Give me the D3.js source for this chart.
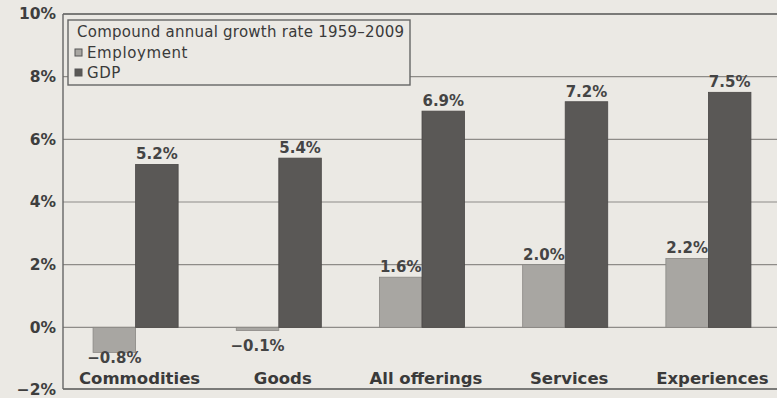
<!DOCTYPE html>
<html><head><meta charset="utf-8">
<script src="https://cdn.jsdelivr.net/npm/d3@7/dist/d3.min.js"></script>
<style>
html,body{margin:0;padding:0;background:#ebe9e4;}
svg{display:block;}
</style></head>
<body>
<svg id="chart" width="777" height="398"></svg>
<script>
const categories = ["Commodities", "Goods", "All offerings", "Services", "Experiences"];
const seriesNames = ["Employment", "GDP"];
const employment = [-0.8, -0.1, 1.6, 2.0, 2.2];
const gdp = [5.2, 5.4, 6.9, 7.2, 7.5];
const yTicks = [-2, 0, 2, 4, 6, 8, 10];
const legendTitle = "Compound annual growth rate 1959\u20132009";

const colors = {Employment: "#a8a6a2", GDP: "#5a5856"};
const W = 777, H = 398;
const svg = d3.select("#chart");
svg.append("rect").attr("width", W).attr("height", H).attr("fill", "#ebe9e4");

const left = 63, right = 780;
const y = d3.scaleLinear().domain([-2, 10]).range([390, 14]);
const x0 = d3.scaleBand().domain(categories).range([left + 1, right]).paddingInner(0.406).paddingOuter(0.203);
const x1 = d3.scaleBand().domain(seriesNames).range([0, x0.bandwidth()]);

const data = categories.map((c, i) => ({cat: c, values: [
  {key: "Employment", v: employment[i]}, {key: "GDP", v: gdp[i]}]}));

// gridlines
const grid = svg.append("g");
grid.selectAll("line").data(yTicks.filter(t => t > -2 && t < 10)).join("line")
  .attr("x1", left).attr("x2", W).attr("y1", d => y(d)).attr("y2", d => y(d))
  .attr("stroke", "#8e8c88").attr("stroke-width", 1.2);

// frame lines
svg.append("line").attr("x1", left).attr("x2", W).attr("y1", y(10)).attr("y2", y(10))
  .attr("stroke", "#555").attr("stroke-width", 1.6);
svg.append("line").attr("x1", left).attr("x2", W).attr("y1", y(-2) - 1).attr("y2", y(-2) - 1)
  .attr("stroke", "#555").attr("stroke-width", 1.6);
svg.append("line").attr("x1", left).attr("x2", left).attr("y1", y(10)).attr("y2", y(-2) - 1)
  .attr("stroke", "#666").attr("stroke-width", 1.4);

// y axis
const yAxis = d3.axisLeft(y).tickValues(yTicks).tickSize(0).tickPadding(7)
  .tickFormat(d => (d < 0 ? "\u2212" + Math.abs(d) : d) + "%");
const ya = svg.append("g").attr("transform", `translate(${left},0)`).call(yAxis);
ya.select(".domain").remove();
ya.selectAll("text").attr("font-family", "DejaVu Sans").attr("font-weight", "bold")
  .attr("font-size", 15.5).attr("fill", "#3e3e3e");

// bars
const groups = svg.append("g").selectAll("g").data(data).join("g")
  .attr("transform", d => `translate(${x0(d.cat)},0)`);
groups.selectAll("rect").data(d => d.values).join("rect")
  .attr("x", d => x1(d.key)).attr("width", x1.bandwidth())
  .attr("y", d => y(Math.max(0, d.v))).attr("height", d => Math.abs(y(d.v) - y(0)))
  .attr("fill", d => colors[d.key]).attr("stroke", d => d.key === "GDP" ? "#4a4846" : "#8a8884")
  .attr("stroke-width", 0.8);

// value labels
groups.selectAll("text").data(d => d.values).join("text")
  .attr("x", d => x1(d.key) + x1.bandwidth() / 2)
  .attr("y", d => d.v >= 0 ? y(d.v) - 5 : Math.max(y(d.v) + 11, y(0) + 24))
  .attr("text-anchor", "middle").attr("font-family", "DejaVu Sans").attr("font-weight", "bold")
  .attr("font-size", 15).attr("fill", "#444")
  .text(d => (d.v < 0 ? "\u2212" + Math.abs(d.v).toFixed(1) : d.v.toFixed(1)) + "%");

// category labels
svg.append("g").selectAll("text").data(categories).join("text")
  .attr("x", d => x0(d) + x0.bandwidth() / 2 + 4).attr("y", 384)
  .attr("text-anchor", "middle").attr("font-family", "DejaVu Sans").attr("font-weight", "bold")
  .attr("font-size", 16.5).attr("fill", "#3a3a3a").text(d => d);

// legend
const lg = svg.append("g");
lg.append("rect").attr("x", 68).attr("y", 20).attr("width", 342).attr("height", 65)
  .attr("fill", "#ebe9e4").attr("stroke", "#666").attr("stroke-width", 1.4);
lg.append("text").attr("x", 77).attr("y", 37).attr("font-family", "DejaVu Sans")
  .attr("font-size", 15).attr("fill", "#3a3a3a").attr("textLength", 327).text(legendTitle);
seriesNames.forEach((s, i) => {
  const cy = 53 + i * 20;
  lg.append("rect").attr("x", 75).attr("y", cy - 4).attr("width", 7).attr("height", 7)
    .attr("fill", colors[s]).attr("stroke", "#555").attr("stroke-width", 1);
  lg.append("text").attr("x", 87).attr("y", cy + 5).attr("font-family", "DejaVu Sans")
    .attr("font-size", 15).attr("letter-spacing", 0.6).attr("fill", "#3a3a3a").text(s);
});
</script>
</body></html>
